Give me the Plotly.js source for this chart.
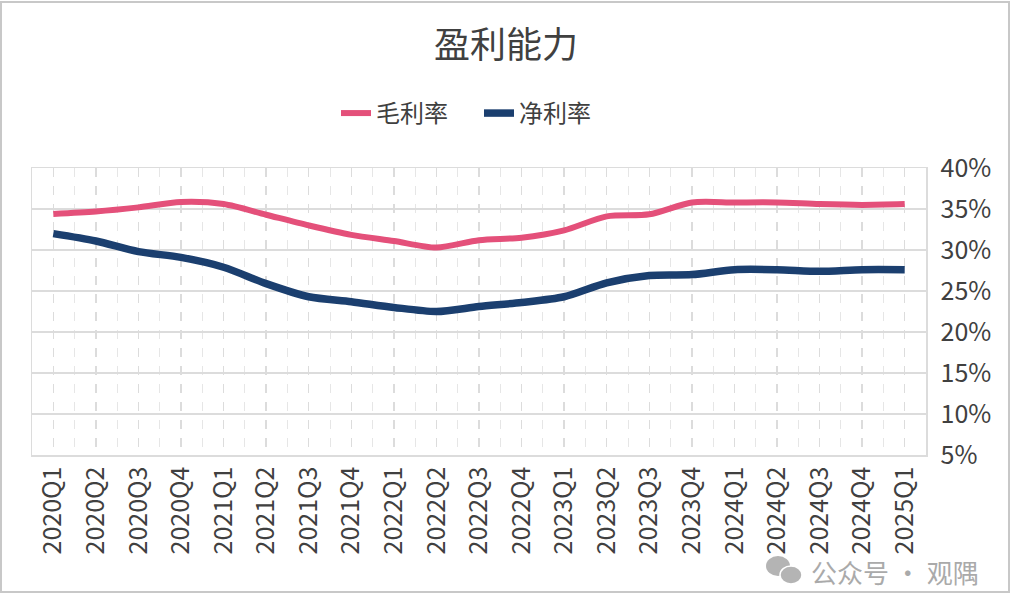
<!DOCTYPE html>
<html>
<head>
<meta charset="utf-8">
<script src="https://cdn.plot.ly/plotly-3.0.1.min.js"></script>
<style>
  html, body { margin: 0; padding: 0; background: #fff; }
  #chart { width: 1012px; height: 611px; }
</style>
</head>
<body>
<div id="chart"></div>
<script>
// Quarters on the x axis
const quarters = [
    '2020Q1', '2020Q2', '2020Q3', '2020Q4',
    '2021Q1', '2021Q2', '2021Q3', '2021Q4',
    '2022Q1', '2022Q2', '2022Q3', '2022Q4',
    '2023Q1', '2023Q2', '2023Q3', '2023Q4',
    '2024Q1', '2024Q2', '2024Q3', '2024Q4',
    '2025Q1'
];

// Gross margin (%)
const grossMargin = [
    34.4, 34.7, 35.2, 35.85,
    35.6, 34.3, 33.0, 31.85,
    31.1, 30.3, 31.2, 31.5,
    32.4, 34.1, 34.35, 35.8,
    35.8, 35.8, 35.6, 35.5,
    35.6
];

// Net margin (%)
const netMargin = [
    32.0, 31.1, 29.8, 29.1,
    27.9, 25.9, 24.3, 23.7,
    23.0, 22.5, 23.1, 23.6,
    24.3, 26.0, 26.9, 27.0,
    27.6, 27.6, 27.4, 27.6,
    27.6
];

const FONT = '"Noto Sans CJK SC", "Noto Sans", sans-serif';
const GRID = '#DCDCDC';
const idx = quarters.map((q, i) => i);

const traces = [
    {
        x: idx, y: grossMargin, name: '毛利率',
        type: 'scatter', mode: 'lines',
        line: { color: '#E4507A', width: 6, shape: 'spline', smoothing: 0.8 },
        hoverinfo: 'skip'
    },
    {
        x: idx, y: netMargin, name: '净利率',
        type: 'scatter', mode: 'lines',
        line: { color: '#1B3F6F', width: 7.5, shape: 'spline', smoothing: 0.8 },
        hoverinfo: 'skip'
    }
];

const layout = {
    width: 1012, height: 611,
    paper_bgcolor: '#fff', plot_bgcolor: '#fff',
    margin: { l: 32, r: 86, t: 168, b: 156 },
    font: { family: FONT, color: '#404040' },
    title: {
        text: '盈利能力',
        font: { family: FONT, size: 36, color: '#404040' },
        x: 0.5, xanchor: 'center',
        y: 0.926, yanchor: 'middle'
    },
    showlegend: true,
    legend: {
        orientation: 'h',
        x: 0.5, xanchor: 'center',
        y: 1.19, yanchor: 'middle',
        font: { family: FONT, size: 24, color: '#404040' },
        entrywidth: 98,
        tracegroupgap: 0
    },
    xaxis: {
        range: [-0.5, quarters.length - 0.5],
        tickmode: 'array', tickvals: idx, ticktext: quarters,
        tickangle: -90,
        tickfont: { family: FONT, size: 25, color: '#404040' },
        ticks: '', ticklen: 0,
        showgrid: true, gridcolor: GRID, gridwidth: 1.3, griddash: 'dash',
        minor: {
            tickmode: 'linear', tick0: 0.5, dtick: 1,
            showgrid: true, gridcolor: '#E6E6E6', gridwidth: 1, griddash: 'dash'
        },
        showline: true, linecolor: GRID, linewidth: 1.5, mirror: true,
        zeroline: false, fixedrange: true
    },
    yaxis: {
        side: 'right',
        range: [5, 40],
        tickmode: 'linear', tick0: 5, dtick: 5,
        ticksuffix: '%',
        tickfont: { family: FONT, size: 25, color: '#404040' },
        ticks: '', ticklen: 0, ticklabelstandoff: 8,
        showgrid: true, gridcolor: GRID, gridwidth: 1.5,
        showline: true, linecolor: GRID, linewidth: 1.5, mirror: true,
        zeroline: false, fixedrange: true
    },
    shapes: [
        // outer frame of the picture
        {
            type: 'rect', xref: 'paper', yref: 'paper',
            x0: -31 / 894, x1: 1009 / 894 - 32 / 894,
            y0: (455 - 592) / 287, y1: (455 - 2) / 287,
            line: { color: '#C8C8C8', width: 2 }, fillcolor: 'rgba(0,0,0,0)'
        },
        // watermark chat bubbles
        {
            type: 'circle', xref: 'paper', yref: 'paper',
            x0: (766 - 32) / 894, x1: (790 - 32) / 894,
            y0: (455 - 576) / 287, y1: (455 - 556) / 287,
            line: { width: 0 }, fillcolor: '#B4B4B4'
        },
        {
            type: 'circle', xref: 'paper', yref: 'paper',
            x0: (780 - 32) / 894, x1: (802 - 32) / 894,
            y0: (455 - 584) / 287, y1: (455 - 566) / 287,
            line: { color: '#fff', width: 1.5 }, fillcolor: '#B4B4B4'
        }
    ],
    annotations: [
        {
            text: '公众号 · 观隅',
            xref: 'paper', yref: 'paper',
            x: (981 - 32) / 894, xanchor: 'right',
            y: (455 - 571) / 287, yanchor: 'middle',
            showarrow: false,
            font: { family: FONT, size: 26, color: '#AAAAAA' }
        }
    ]
};

Plotly.newPlot('chart', traces, layout, { displayModeBar: false, staticPlot: true });
</script>
</body>
</html>
